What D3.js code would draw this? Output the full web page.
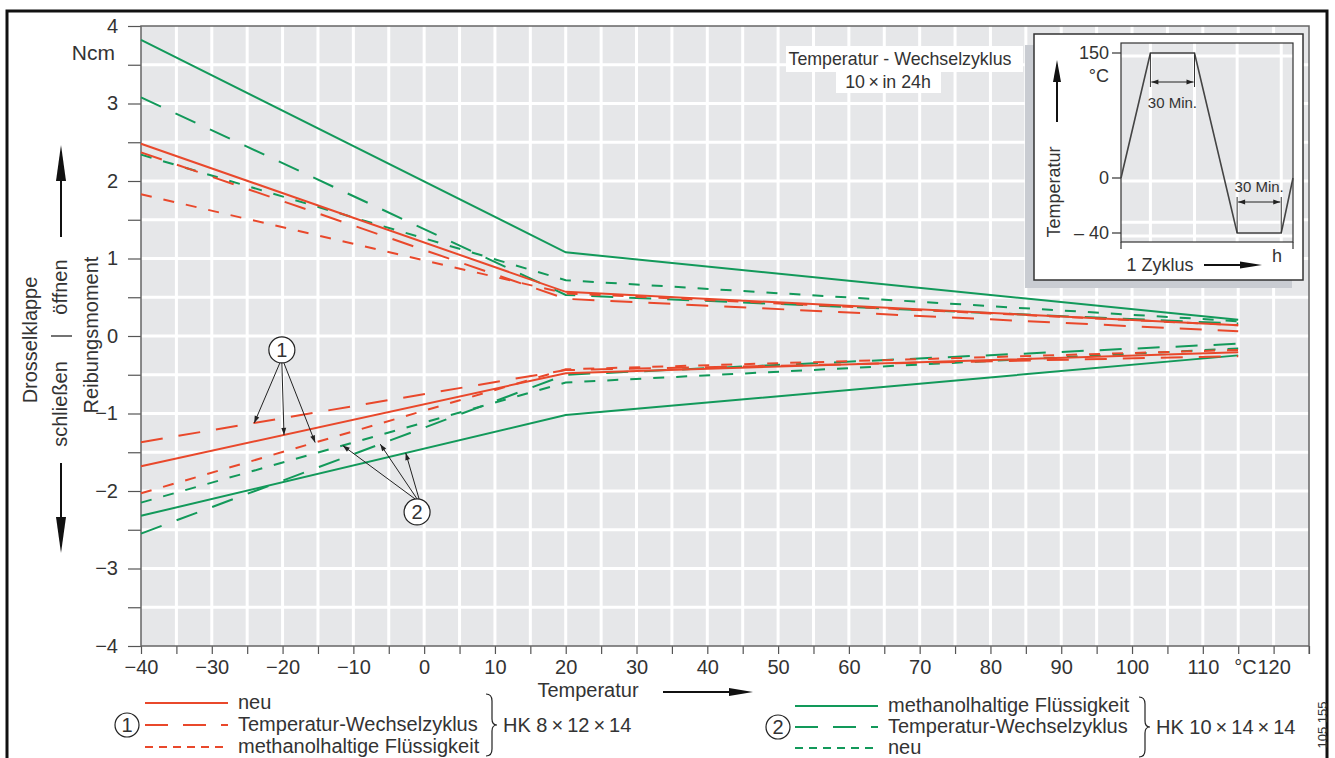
<!DOCTYPE html>
<html lang="de">
<head>
<meta charset="UTF-8">
<title>Reibungsmoment Drosselklappe</title>
<script src="https://d3js.org/d3.v7.min.js"></script>
<style>
  body { margin: 0; background: #fff; }
  svg { display: block; font-family: "Liberation Sans", Arial, sans-serif; }
  text { fill: #333; }
</style>
</head>
<body>
<svg id="chart" width="1335" height="758"></svg>
<script>
// Temperatur-Stützpunkte der Kennlinien (°C)
const temps = [-40, 20, 115];

// HK 8x12x14 (1)
const hk8NeuAuf = [2.48, 0.57, 0.14];
const hk8ZyklusAuf = [2.37, 0.48, 0.06];
const hk8MethanolAuf = [1.83, 0.55, 0.14];
const hk8NeuZu = [-1.68, -0.48, -0.21];
const hk8ZyklusZu = [-1.37, -0.44, -0.26];
const hk8MethanolZu = [-2.03, -0.43, -0.18];

// HK 10x14x14 (2)
const hk10MethanolAuf = [3.82, 1.08, 0.21];
const hk10ZyklusAuf = [3.08, 0.53, 0.16];
const hk10NeuAuf = [2.34, 0.72, 0.19];
const hk10MethanolZu = [-2.32, -1.02, -0.25];
const hk10ZyklusZu = [-2.55, -0.50, -0.10];
const hk10NeuZu = [-2.15, -0.60, -0.16];

const xTicks = d3.range(-40, 126, 5);
const yTicks = d3.range(-4, 4.01, 0.5);

// Inset: ein Temperatur-Wechselzyklus
const cycleMin = [0, 20, 50, 79, 109, 117];
const cycleTemp = [0, 150, 150, -40, -40, 0];
const insetTicks = [150, 0, -40];
const insetGridT = [150, 0, -30, -40];

const red = "#e9482b", green = "#12995a";
const dashes = { solid: null, long: "22,16", short: "11,12" };
const legendDashes = { solid: null, long: "23,15", short: "8,6" };

const svg = d3.select("#chart");
const x = d3.scaleLinear().domain([-40, 125]).range([141, 1309]);
const y = d3.scaleLinear().domain([-4, 4]).range([646, 26]);
const fmt = d3.format("d");

// outer frame
svg.append("rect").attr("x", 7).attr("y", 11).attr("width", 1320).attr("height", 770)
  .attr("fill", "none").attr("stroke", "#111").attr("stroke-width", 3);

// plot background + grid
svg.append("rect").attr("x", x(-40)).attr("y", y(4))
  .attr("width", x(125) - x(-40)).attr("height", y(-4) - y(4)).attr("fill", "#e6e7e9");

svg.append("g").selectAll("line").data(xTicks.slice(1, -1)).join("line")
  .attr("x1", d => x(d)).attr("x2", d => x(d)).attr("y1", y(4)).attr("y2", y(-4))
  .attr("stroke", "#fff").attr("stroke-width", 3);
svg.append("g").selectAll("line").data(yTicks.slice(1, -1)).join("line")
  .attr("y1", d => y(d)).attr("y2", d => y(d)).attr("x1", x(-40)).attr("x2", x(125))
  .attr("stroke", "#fff").attr("stroke-width", 3);

// axes
const gx = svg.append("g").attr("transform", `translate(0,${y(-4)})`)
  .call(d3.axisBottom(x).tickValues(xTicks).tickSize(8).tickPadding(6)
    .tickFormat(d => d % 10 === 0 ? fmt(d) : ""));
const gy = svg.append("g").attr("transform", `translate(${x(-40)},0)`)
  .call(d3.axisLeft(y).tickValues(yTicks).tickSize(13).tickPadding(10)
    .tickFormat(d => Number.isInteger(d) ? fmt(d) : ""));
[gx, gy].forEach(g => {
  g.attr("font-size", 20).attr("font-family", null);
  g.select(".domain").remove();
  g.selectAll(".tick line").attr("stroke", "#555").attr("stroke-width", 1.2);
  g.selectAll(".tick text").attr("fill", "#333");
});
svg.append("text").attr("x", x(120) - 17).attr("y", y(-4) + 28).attr("text-anchor", "end")
  .attr("font-size", 20).text("°C");

svg.append("rect").attr("x", x(-40)).attr("y", y(4))
  .attr("width", x(125) - x(-40)).attr("height", y(-4) - y(4))
  .attr("fill", "none").attr("stroke", "#666").attr("stroke-width", 1.5);
svg.append("line").attr("x1", x(125)).attr("x2", x(125)).attr("y1", y(-4)).attr("y2", y(-4) + 8)
  .attr("stroke", "#555");

// curves
const series = [
  { v: hk10MethanolAuf, c: green, d: "solid" },
  { v: hk10ZyklusAuf, c: green, d: "long" },
  { v: hk10NeuAuf, c: green, d: "short" },
  { v: hk10MethanolZu, c: green, d: "solid" },
  { v: hk10ZyklusZu, c: green, d: "long" },
  { v: hk10NeuZu, c: green, d: "short" },
  { v: hk8NeuAuf, c: red, d: "solid" },
  { v: hk8ZyklusAuf, c: red, d: "long" },
  { v: hk8MethanolAuf, c: red, d: "short" },
  { v: hk8NeuZu, c: red, d: "solid" },
  { v: hk8ZyklusZu, c: red, d: "long" },
  { v: hk8MethanolZu, c: red, d: "short" }
];
const line = d3.line().x(d => x(d[0])).y(d => y(d[1]));
svg.append("g").selectAll("path").data(series).join("path")
  .attr("d", s => line(temps.map((t, i) => [t, s.v[i]])))
  .attr("fill", "none").attr("stroke", s => s.c).attr("stroke-width", 2)
  .attr("stroke-dasharray", s => dashes[s.d]);

// markers
const defs = svg.append("defs");
defs.append("marker").attr("id", "ah").attr("viewBox", "0 0 10 10")
  .attr("refX", 10).attr("refY", 5).attr("markerUnits", "userSpaceOnUse")
  .attr("markerWidth", 10).attr("markerHeight", 7).attr("orient", "auto-start-reverse")
  .append("path").attr("d", "M0,1.5L10,5L0,8.5z").attr("fill", "#222");

// callouts (1) and (2)
const valueAt = (arr, t) => d3.scaleLinear().domain(temps).range(arr)(t);
function callout(label, ct, cv, targets, fromTop) {
  const cx = x(ct), cy = y(cv), r = 13;
  svg.append("g").selectAll("line").data(targets).join("line")
    .attr("x1", (d, i) => cx + (i - 1) * 2).attr("y1", fromTop ? cy + r : cy - r)
    .attr("x2", d => x(d.t)).attr("y2", d => y(valueAt(d.s, d.t)))
    .attr("stroke", "#222").attr("stroke-width", 1).attr("marker-end", "url(#ah)");
  svg.append("circle").attr("cx", cx).attr("cy", cy).attr("r", r)
    .attr("fill", "#fff").attr("stroke", "#222").attr("stroke-width", 1.2);
  svg.append("text").attr("x", cx).attr("y", cy).attr("dy", "0.36em")
    .attr("text-anchor", "middle").attr("font-size", 20).text(label);
}
callout("1", -20.1, -0.18, [
  { s: hk8ZyklusZu, t: -24.0 }, { s: hk8NeuZu, t: -19.8 }, { s: hk8MethanolZu, t: -15.4 }
], true);
callout("2", -1.0, -2.27, [
  { s: hk10NeuZu, t: -11.5 }, { s: hk10ZyklusZu, t: -6.2 }, { s: hk10MethanolZu, t: -2.6 }
], false);

// y axis titles
function vtext(tx, ty, str, size) {
  svg.append("text").attr("transform", `translate(${tx},${ty}) rotate(-90)`)
    .attr("text-anchor", "middle").attr("font-size", size).text(str);
}
vtext(37, 340, "Drosselklappe", 20);
vtext(67, 287, "öffnen", 20);
vtext(67, 404, "schließen", 20);
vtext(98, 335, "Reibungsmoment", 20);
svg.append("line").attr("x1", 51).attr("x2", 72).attr("y1", 336).attr("y2", 336)
  .attr("stroke", "#444").attr("stroke-width", 1.5);
svg.append("text").attr("x", 115).attr("y", 53).attr("dy", "0.35em")
  .attr("text-anchor", "end").attr("font-size", 21).text("Ncm");

function arrow(x1, y1, x2, y2, head, w) {
  const a = Math.atan2(y2 - y1, x2 - x1);
  const bx = x2 - head * Math.cos(a), by = y2 - head * Math.sin(a);
  svg.append("line").attr("x1", x1).attr("y1", y1).attr("x2", bx).attr("y2", by)
    .attr("stroke", "#111").attr("stroke-width", 2);
  const px = -Math.sin(a) * w / 2, py = Math.cos(a) * w / 2;
  svg.append("path").attr("d", `M${x2},${y2}L${bx + px},${by + py}L${bx - px},${by - py}Z`)
    .attr("fill", "#111");
}
arrow(61, 237, 61, 145, 36, 10);
arrow(61, 463, 61, 553, 36, 10);

// x axis title
svg.append("text").attr("x", 588).attr("y", 690).attr("dy", "0.35em")
  .attr("text-anchor", "middle").attr("font-size", 20).text("Temperatur");
arrow(663, 692, 753, 692, 24, 8);

// note
const note = svg.append("g");
note.append("rect").attr("x", 786).attr("y", 46).attr("width", 237).attr("height", 26).attr("fill", "#fff");
note.append("rect").attr("x", 836).attr("y", 71).attr("width", 105).attr("height", 22).attr("fill", "#fff");
note.append("text").attr("x", 900).attr("y", 59).attr("dy", "0.35em").attr("text-anchor", "middle")
  .attr("font-size", 17.8).text("Temperatur - Wechselzyklus");
note.append("text").attr("x", 888).attr("y", 82).attr("dy", "0.35em").attr("text-anchor", "middle")
  .attr("font-size", 17.8).text("10\u2009×\u2009in 24h");

// inset
const ix = d3.scaleLinear().domain([0, 117]).range([1121, 1293]);
const iy = d3.scaleLinear().domain([-40, 0, 150]).range([233, 178, 53]);
const inset = svg.append("g");
inset.append("rect").attr("x", 1025).attr("y", 45).attr("width", 267).attr("height", 243).attr("fill", "#c9ccd2");
inset.append("rect").attr("x", 1034).attr("y", 34).attr("width", 269).attr("height", 246)
  .attr("fill", "#fff").attr("stroke", "#333").attr("stroke-width", 1.5);
inset.append("rect").attr("x", ix(0)).attr("y", 43).attr("width", ix(117) - ix(0)).attr("height", 199)
  .attr("fill", "#e6e7e9");
inset.append("g").selectAll("line").data(cycleMin.slice(1, 5)).join("line")
  .attr("x1", d => ix(d)).attr("x2", d => ix(d)).attr("y1", 43).attr("y2", 242)
  .attr("stroke", "#fff").attr("stroke-width", 3);
inset.append("g").selectAll("line").data(insetGridT).join("line")
  .attr("y1", d => iy(d) + 3).attr("y2", d => iy(d) + 3).attr("x1", ix(0)).attr("x2", ix(117))
  .attr("stroke", "#fff").attr("stroke-width", 3);
inset.append("rect").attr("x", ix(0)).attr("y", 43).attr("width", ix(117) - ix(0)).attr("height", 199)
  .attr("fill", "none").attr("stroke", "#333").attr("stroke-width", 1.2);
inset.append("g").selectAll("line").data(insetTicks).join("line")
  .attr("x1", ix(0) - 9).attr("x2", ix(0)).attr("y1", d => iy(d)).attr("y2", d => iy(d))
  .attr("stroke", "#333").attr("stroke-width", 1.2);
inset.append("g").selectAll("line").data([0, 117]).join("line")
  .attr("x1", d => ix(d)).attr("x2", d => ix(d)).attr("y1", 242).attr("y2", 249)
  .attr("stroke", "#333").attr("stroke-width", 1.2);
inset.append("path")
  .attr("d", d3.line().x(d => ix(d[0])).y(d => iy(d[1]))(cycleMin.map((m, i) => [m, cycleTemp[i]])))
  .attr("fill", "none").attr("stroke", "#444").attr("stroke-width", 1.6);
const tickLab = { "150": "150", "0": "0", "-40": "– 40" };
inset.append("g").selectAll("text").data(insetTicks).join("text")
  .attr("x", ix(0) - 12).attr("y", d => iy(d)).attr("dy", "0.35em").attr("text-anchor", "end")
  .attr("font-size", 18).text(d => tickLab[d]);
inset.append("text").attr("x", ix(0) - 12).attr("y", iy(150) + 23).attr("dy", "0.35em")
  .attr("text-anchor", "end").attr("font-size", 18).text("°C");

// 30 Min. dimensions
function dim(m1, m2, tBase, yLine, yExt, labelY) {
  inset.append("g").selectAll("line").data([m1, m2]).join("line")
    .attr("x1", d => ix(d)).attr("x2", d => ix(d)).attr("y1", iy(tBase)).attr("y2", yExt)
    .attr("stroke", "#333").attr("stroke-width", 1);
  inset.append("line").attr("x1", ix(m1) + 1).attr("x2", ix(m2) - 1).attr("y1", yLine).attr("y2", yLine)
    .attr("stroke", "#222").attr("stroke-width", 1)
    .attr("marker-start", "url(#ah)").attr("marker-end", "url(#ah)");
  inset.append("text").attr("x", (ix(m1) + ix(m2)) / 2).attr("y", labelY).attr("dy", "0.35em")
    .attr("text-anchor", "middle").attr("font-size", 15).text("30 Min.");
}
dim(cycleMin[1], cycleMin[2], 150, 82, 87, 103);
dim(cycleMin[3], cycleMin[4], -40, 202, 197, 187);

vtext(1060, 192, "Temperatur", 18);
arrow(1057, 122, 1057, 60, 22, 8);
inset.append("text").attr("x", 1160).attr("y", 265).attr("dy", "0.35em").attr("text-anchor", "middle")
  .attr("font-size", 18).text("1 Zyklus");
arrow(1204, 265, 1262, 265, 22, 7);
inset.append("text").attr("x", 1277).attr("y", 256).attr("dy", "0.35em").attr("text-anchor", "middle")
  .attr("font-size", 18).text("h");

// legends
function brace(bx, y0, y1) {
  const m = (y0 + y1) / 2;
  svg.append("path")
    .attr("d", `M${bx},${y0} q6,0 6,7 V${m - 6} q0,6 5,6 q-5,0 -5,6 V${y1 - 7} q0,7 -6,7`)
    .attr("fill", "none").attr("stroke", "#222").attr("stroke-width", 1.2);
}
function legend(num, cx, lx, rows, color, rowY, braceX, hk) {
  const g = svg.append("g");
  g.append("circle").attr("cx", cx).attr("cy", rowY[1]).attr("r", 12)
    .attr("fill", "#fff").attr("stroke", "#222").attr("stroke-width", 1.2);
  g.append("text").attr("x", cx).attr("y", rowY[1]).attr("dy", "0.36em").attr("text-anchor", "middle")
    .attr("font-size", 20).text(num);
  g.selectAll("line").data(rows).join("line")
    .attr("x1", lx).attr("x2", lx + 83).attr("y1", (d, i) => rowY[i]).attr("y2", (d, i) => rowY[i])
    .attr("stroke", color).attr("stroke-width", 2).attr("stroke-dasharray", d => legendDashes[d.d]);
  g.selectAll("text.lab").data(rows).join("text").attr("class", "lab")
    .attr("x", lx + 93).attr("y", (d, i) => rowY[i]).attr("dy", "0.32em")
    .attr("font-size", 20).text(d => d.name);
  brace(braceX, rowY[0] - 9, rowY[2] + 9);
  g.append("text").attr("x", braceX + 17).attr("y", rowY[1]).attr("dy", "0.36em")
    .attr("font-size", 20).text(hk);
}
legend("1", 127, 145, [
  { name: "neu", d: "solid" },
  { name: "Temperatur-Wechselzyklus", d: "long" },
  { name: "methanolhaltige Flüssigkeit", d: "short" }
], red, [703, 725, 747], 486, "HK 8\u2009×\u200912\u2009×\u200914");
legend("2", 778, 795, [
  { name: "methanolhaltige Flüssigkeit", d: "solid" },
  { name: "Temperatur-Wechselzyklus", d: "long" },
  { name: "neu", d: "short" }
], green, [706, 727, 748], 1139, "HK 10\u2009×\u200914\u2009×\u200914");

vtext(1327, 725, "105 155", 13);
</script>
</body>
</html>
